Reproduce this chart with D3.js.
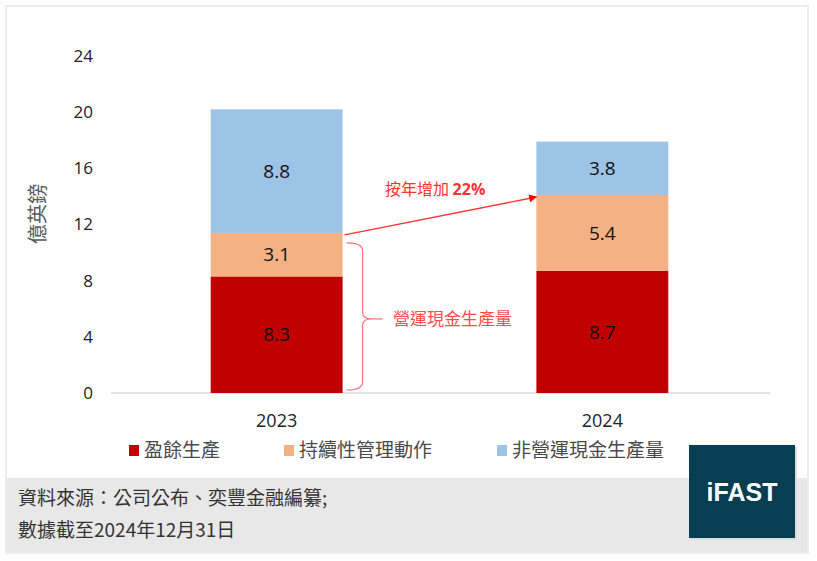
<!DOCTYPE html>
<html>
<head>
<meta charset="utf-8">
<script src="https://cdn.jsdelivr.net/npm/d3@7"></script>
<style>
  body { margin: 0; background: #fff; }
  svg text { font-family: "Noto Sans CJK TC", "Noto Sans", sans-serif; }
</style>
</head>
<body>
<div id="chart"></div>
<script>
// datos del gráfico
const years = ["2023", "2024"];
const seriesNames = ["盈餘生產", "持續性管理動作", "非營運現金生產量"];
const surplus = [8.3, 8.7];
const mgmtActions = [3.1, 5.4];
const nonOperating = [8.8, 3.8];
const yTicks = [0, 4, 8, 12, 16, 20, 24];
const colors = ["#c00000", "#f4b183", "#9dc3e6"];

const width = 817, height = 561;
const margin = { left: 111, right: 47, top: 56, bottom: 168 };

const svg = d3.select("#chart").append("svg")
    .attr("width", width)
    .attr("height", height);

// marco exterior
svg.append("rect")
    .attr("x", 6).attr("y", 6)
    .attr("width", 802).attr("height", 547)
    .attr("fill", "#fff")
    .attr("stroke", "#ececec")
    .attr("stroke-width", 2);

// pie gris
svg.append("rect")
    .attr("x", 7).attr("y", 478)
    .attr("width", 800).attr("height", 74)
    .attr("fill", "#e8e8e8");

const x = d3.scaleBand()
    .domain(years)
    .range([113, 766])
    .paddingInner(0.595)
    .paddingOuter(0.3);

const y = d3.scaleLinear()
    .domain([0, 24])
    .range([height - margin.bottom, margin.top]);

// apilar series
const rows = years.map((yr, i) => ({
    year: yr,
    [seriesNames[0]]: surplus[i],
    [seriesNames[1]]: mgmtActions[i],
    [seriesNames[2]]: nonOperating[i]
}));
const stacked = d3.stack().keys(seriesNames)(rows);

// eje Y (solo etiquetas)
const yAxis = svg.append("g")
    .attr("transform", `translate(${margin.left - 18},0)`)
    .call(d3.axisLeft(y).tickValues(yTicks).tickSize(0).tickPadding(0));
yAxis.select(".domain").remove();
yAxis.selectAll("text")
    .style("font-size", "17px")
    .style("fill", "#222")
    .style("font-family", "'Open Sans', sans-serif");

// línea base
svg.append("line")
    .attr("x1", margin.left).attr("x2", width - margin.right)
    .attr("y1", y(0)).attr("y2", y(0))
    .attr("stroke", "#d9d9d9")
    .attr("stroke-width", 1.5);

// barras
const layers = svg.selectAll(".layer")
    .data(stacked)
    .enter().append("g")
    .attr("class", "layer")
    .attr("fill", (d, i) => colors[i]);

layers.selectAll("rect")
    .data(d => d)
    .enter().append("rect")
    .attr("x", d => x(d.data.year))
    .attr("y", d => y(d[1]))
    .attr("width", x.bandwidth())
    .attr("height", d => y(d[0]) - y(d[1]));

layers.selectAll(".val")
    .data(d => d.map(p => ({ p, key: d.key })))
    .enter().append("text")
    .attr("class", "val")
    .attr("x", d => x(d.p.data.year) + x.bandwidth() / 2)
    .attr("y", d => y((d.p[0] + d.p[1]) / 2))
    .attr("dy", "0.35em")
    .attr("text-anchor", "middle")
    .style("font-size", "19px")
    .style("fill", "#111")
    .style("font-family", "'Open Sans', sans-serif")
    .text(d => d.p.data[d.key].toFixed(1));

// etiquetas eje X
svg.selectAll(".xlab")
    .data(years)
    .enter().append("text")
    .attr("class", "xlab")
    .attr("x", d => x(d) + x.bandwidth() / 2)
    .attr("y", 427)
    .attr("text-anchor", "middle")
    .style("font-size", "18px")
    .style("fill", "#222")
    .style("font-family", "'Open Sans', sans-serif")
    .text(d => d);

// título eje Y
svg.append("text")
    .attr("transform", "translate(38,214) rotate(-90)")
    .attr("text-anchor", "middle")
    .attr("dy", "0.35em")
    .style("font-size", "20px")
    .style("fill", "#595959")
    .text("億英鎊");

// flecha de crecimiento
svg.append("defs").append("marker")
    .attr("id", "arrow")
    .attr("viewBox", "0 0 10 10")
    .attr("refX", 9).attr("refY", 5)
    .attr("markerWidth", 10).attr("markerHeight", 8)
    .attr("markerUnits", "userSpaceOnUse")
    .attr("orient", "auto")
    .append("path")
    .attr("d", "M0,0 L10,5 L0,10 Z")
    .attr("fill", "#ff0000");

const x23 = x("2023") + x.bandwidth();
const x24 = x("2024");
const opTotal23 = surplus[0] + mgmtActions[0];
const opTotal24 = surplus[1] + mgmtActions[1];

svg.append("line")
    .attr("x1", x23 + 2).attr("y1", y(opTotal23) + 2)
    .attr("x2", x24).attr("y2", y(opTotal24) + 2)
    .attr("stroke", "#ff3333")
    .attr("stroke-width", 1.3)
    .attr("marker-end", "url(#arrow)");

const growth = svg.append("text")
    .attr("x", 385).attr("y", 189)
    .attr("dy", "0.35em")
    .style("font-size", "16px")
    .style("fill", "#ff3333");
growth.append("tspan").text("按年增加 ");
growth.append("tspan").style("font-weight", "bold")
    .style("font-family", "'Open Sans', sans-serif").text("22%");

// llave
const bx0 = x23 + 4, bx1 = x23 + 20, btip = x23 + 40;
const bTop = y(opTotal23) + 10, bBot = y(0) - 3, bMid = y(opTotal23 / 2) + 6;
svg.append("path")
    .attr("d", `M${bx0},${bTop} Q${bx1},${bTop} ${bx1},${bTop + 8}
        L${bx1},${bMid - 6} Q${bx1},${bMid} ${btip - 10},${bMid} L${btip},${bMid}
        M${btip - 10},${bMid} Q${bx1},${bMid} ${bx1},${bMid + 6}
        L${bx1},${bBot - 8} Q${bx1},${bBot} ${bx0},${bBot}`)
    .attr("fill", "none")
    .attr("stroke", "#ff7777")
    .attr("stroke-width", 1.2);

svg.append("text")
    .attr("x", 393).attr("y", bMid)
    .attr("dy", "0.35em")
    .style("font-size", "17px")
    .style("fill", "#ff4d4d")
    .text("營運現金生產量");

// leyenda
const legendX = [129, 284, 497];
const legend = svg.selectAll(".legend")
    .data(seriesNames)
    .enter().append("g")
    .attr("class", "legend")
    .attr("transform", (d, i) => `translate(${legendX[i]},450)`);
legend.append("rect")
    .attr("x", 0).attr("y", -5)
    .attr("width", 10).attr("height", 11)
    .attr("fill", (d, i) => colors[i]);
legend.append("text")
    .attr("x", 15)
    .attr("dy", "0.35em")
    .style("font-size", "19px")
    .style("fill", "#4a4a4a")
    .text(d => d);

// fuente
svg.append("text")
    .attr("x", 18).attr("y", 498)
    .attr("dy", "0.35em")
    .style("font-size", "19px")
    .style("fill", "#333")
    .text("資料來源：公司公布、奕豐金融編纂;");
svg.append("text")
    .attr("x", 18).attr("y", 530)
    .attr("dy", "0.35em")
    .style("font-size", "19px")
    .style("fill", "#333")
    .text("數據截至2024年12月31日");

// logo
svg.append("rect")
    .attr("x", 691).attr("y", 447)
    .attr("width", 106).attr("height", 93)
    .attr("fill", "#dcdcdc");
svg.append("rect")
    .attr("x", 689).attr("y", 445)
    .attr("width", 106).attr("height", 93)
    .attr("fill", "#053f51");
svg.append("text")
    .attr("x", 742).attr("y", 492)
    .attr("dy", "0.35em")
    .attr("text-anchor", "middle")
    .style("font-family", "'Liberation Sans', Arial, sans-serif")
    .style("font-weight", "bold")
    .style("font-size", "25px")
    .style("fill", "#fff")
    .text("iFAST");
</script>
</body>
</html>
